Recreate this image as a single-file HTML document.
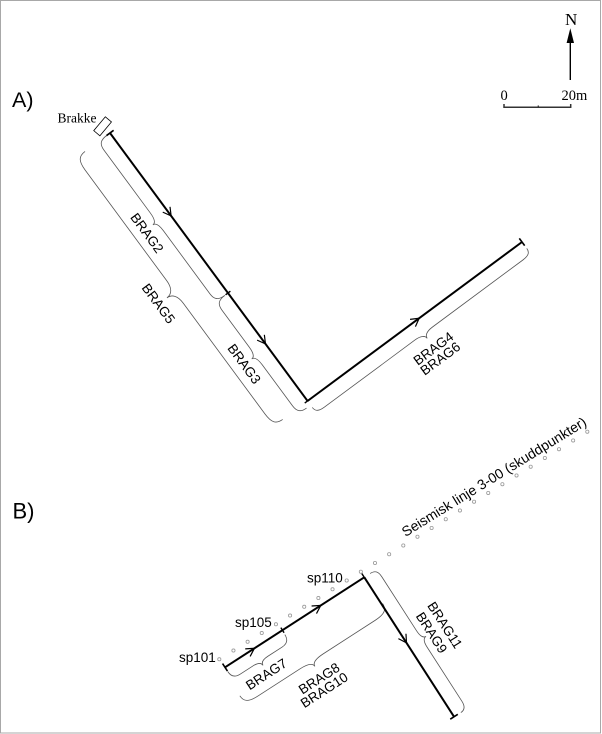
<!DOCTYPE html>
<html>
<head>
<meta charset="utf-8">
<style>
  html, body { margin: 0; padding: 0; background: #fff; }
  svg { display: block; }
  .sans { font-family: "Liberation Sans", Arial, sans-serif; }
  .serif { font-family: "Liberation Serif", "Times New Roman", serif; }
</style>
</head>
<body>
<svg width="602" height="734" viewBox="0 0 602 734" xmlns="http://www.w3.org/2000/svg">
  <rect x="0" y="0" width="602" height="734" fill="#fff"/>
  <!-- frame -->
  <rect x="0.5" y="0.5" width="600" height="732.5" fill="none" stroke="#a8a8a8" stroke-width="1"/>

  <!-- North arrow -->
  <text x="565" y="25" class="serif" font-size="17" fill="#000">N</text>
  <line x1="570.3" y1="41" x2="570.3" y2="80" stroke="#000" stroke-width="1.4"/>
  <polygon points="570.3,28.3 566.6,43 574,43" fill="#000"/>

  <!-- Scale bar -->
  <text x="500.5" y="100" class="serif" font-size="14.5" fill="#000">0</text>
  <text x="561.5" y="100" class="serif" font-size="14.5" fill="#000">20m</text>
  <path d="M504,104 L504,107.3 L570.7,107.3 L570.7,104" fill="none" stroke="#333" stroke-width="1.5"/>
  <line x1="538.3" y1="105.5" x2="538.3" y2="107.3" stroke="#333" stroke-width="1.3"/>

  <!-- Section labels -->
  <text x="12" y="107" class="sans" font-size="21.5" fill="#000">A)</text>
  <text x="12.5" y="518.5" class="sans" font-size="22" fill="#000">B)</text>

  <!-- Brakke -->
  <text x="57.5" y="122.3" class="serif" font-size="13.5" fill="#000">Brakke</text>
  <rect x="-9" y="-4" width="18" height="8" transform="translate(102.6,126.3) rotate(-50)" fill="#fff" stroke="#000" stroke-width="0.8"/>

  <!-- A1 line -->
  <g transform="translate(110,133) rotate(53.6)">
    <line x1="0" y1="0" x2="332.9" y2="0" stroke="#000" stroke-width="2"/>
    <line x1="0" y1="-4.5" x2="0" y2="4.5" stroke="#000" stroke-width="1.6"/>
    <line x1="198.8" y1="-3" x2="198.8" y2="3" stroke="#000" stroke-width="1.4"/>
    <line x1="332.9" y1="-3.5" x2="332.9" y2="3.5" stroke="#000" stroke-width="1.4"/>
    <path d="M95,-4.5 L103,0 L95,4.5" fill="none" stroke="#000" stroke-width="1.2"/>
    <path d="M254,-4.5 L262,0 L254,4.5" fill="none" stroke="#000" stroke-width="1.2"/>
    <!-- braces -->
    <path d="M0,4 C0,12 3,15 10,15 L88.4,15 C96,15 99.4,17 99.4,20 C99.4,17 103,15 110.4,15 L188.8,15 C196,15 198.8,12 198.8,4" fill="none" stroke="#555" stroke-width="0.8"/>
    <path d="M198.8,4 C198.8,12 202,15 208.8,15 L255,15 C262.5,15 266,17 266,20 C266,17 269.5,15 277,15 L328,15 C335,15 338,12 338,5" fill="none" stroke="#555" stroke-width="0.8"/>
    <path d="M0,31 C0,39 4,42 15,42 L152.5,42 C162,42 166.5,46 166.5,52 C166.5,46 171,42 180.5,42 L318,42 C329,42 333,39 333,31" fill="none" stroke="#555" stroke-width="0.8"/>
    <text x="102.5" y="34.2" text-anchor="middle" class="sans" font-size="13.5" fill="#000">BRAG2</text>
    <text x="265.5" y="33.6" text-anchor="middle" class="sans" font-size="13.5" fill="#000">BRAG3</text>
    <text x="166" y="66.8" text-anchor="middle" class="sans" font-size="13.5" fill="#000">BRAG5</text>
  </g>

  <!-- A2 line -->
  <g transform="translate(307.5,401) rotate(-36.55)">
    <line x1="0" y1="0" x2="267" y2="0" stroke="#000" stroke-width="2"/>
    <line x1="267" y1="-4.5" x2="267" y2="4.5" stroke="#000" stroke-width="1.6"/>
    <path d="M131,-4.5 L139,0 L131,4.5" fill="none" stroke="#000" stroke-width="1.2"/>
    <path d="M0,8 C0,13 3,15 10,15 L122.5,15 C130,15 133.5,17.5 133.5,21 C133.5,17.5 137,15 144.5,15 L257,15 C264,15 267,13 267,8" fill="none" stroke="#555" stroke-width="0.8"/>
    <text x="132.4" y="37.4" text-anchor="middle" class="sans" font-size="13.5" fill="#000">BRAG4</text>
    <text x="132" y="49.6" text-anchor="middle" class="sans" font-size="13.5" fill="#000">BRAG6</text>
  </g>

  <!-- Seismic shot points -->
  <g fill="#fff" stroke="#999" stroke-width="0.8">
    <circle cx="219.3" cy="659.3" r="1.6"/>
    <circle cx="233.45" cy="650.55" r="1.6"/>
    <circle cx="247.61" cy="641.79" r="1.6"/>
    <circle cx="261.76" cy="633.04" r="1.6"/>
    <circle cx="275.92" cy="624.28" r="1.6"/>
    <circle cx="290.07" cy="615.53" r="1.6"/>
    <circle cx="304.22" cy="606.78" r="1.6"/>
    <circle cx="318.38" cy="598.02" r="1.6"/>
    <circle cx="332.53" cy="589.27" r="1.6"/>
    <circle cx="346.69" cy="580.51" r="1.6"/>
    <circle cx="360.84" cy="571.76" r="1.6"/>
    <circle cx="374.99" cy="563.01" r="1.6"/>
    <circle cx="389.15" cy="554.25" r="1.6"/>
    <circle cx="403.3" cy="545.5" r="1.6"/>
    <circle cx="417.46" cy="536.74" r="1.6"/>
    <circle cx="431.61" cy="527.99" r="1.6"/>
    <circle cx="445.76" cy="519.24" r="1.6"/>
    <circle cx="459.92" cy="510.48" r="1.6"/>
    <circle cx="474.07" cy="501.73" r="1.6"/>
    <circle cx="488.23" cy="492.97" r="1.6"/>
    <circle cx="502.38" cy="484.22" r="1.6"/>
    <circle cx="516.53" cy="475.47" r="1.6"/>
    <circle cx="530.69" cy="466.71" r="1.6"/>
    <circle cx="544.84" cy="457.96" r="1.6"/>
    <circle cx="559" cy="449.2" r="1.6"/>
    <circle cx="573.15" cy="440.45" r="1.6"/>
    <circle cx="587.3" cy="431.7" r="1.6"/>
  </g>
  <text transform="translate(494,476.7) rotate(-31.7)" x="0" y="4.9" text-anchor="middle" class="sans" font-size="14" fill="#000">Seismisk linje 3-00 (skuddpunkter)</text>

  <!-- sp labels -->
  <text x="179" y="662" class="sans" font-size="13.5" fill="#000">sp101</text>
  <text x="235" y="627" class="sans" font-size="13.5" fill="#000">sp105</text>
  <text x="307" y="582.5" class="sans" font-size="13.5" fill="#000">sp110</text>

  <!-- B1 line -->
  <g transform="translate(225,667.3) rotate(-32.86)">
    <line x1="0" y1="0" x2="165.8" y2="0" stroke="#000" stroke-width="2"/>
    <line x1="0" y1="-4.5" x2="0" y2="4.5" stroke="#000" stroke-width="1.6"/>
    <line x1="68.4" y1="-3" x2="68.4" y2="3" stroke="#000" stroke-width="1.4"/>
    <line x1="165.8" y1="-4.5" x2="165.8" y2="3" stroke="#000" stroke-width="1.4"/>
    <path d="M27,-4.5 L35,0 L27,4.5" fill="none" stroke="#000" stroke-width="1.2"/>
    <path d="M106,-4.5 L114,0 L106,4.5" fill="none" stroke="#000" stroke-width="1.2"/>
    <path d="M0,5 C0,11 3,14 9,14 L24,14 C30,14 33,16 33,19 C33,16 36,14 42,14 L59,14 C65,14 68,11 68,5" fill="none" stroke="#555" stroke-width="0.8"/>
    <path d="M-3,32 C-3,39 1,42 12,42 L62,42 C71,42 76,44 76,48 C76,44 81,42 90,42 L152,42 C163,42 167,39 167,32" fill="none" stroke="#555" stroke-width="0.8"/>
    <text x="31" y="32.8" text-anchor="middle" class="sans" font-size="13.5" fill="#000">BRAG7</text>
    <text x="73" y="65.1" text-anchor="middle" class="sans" font-size="13.5" fill="#000">BRAG8</text>
    <text x="71" y="77.6" text-anchor="middle" class="sans" font-size="13.5" fill="#000">BRAG10</text>
  </g>

  <!-- B2 line -->
  <g transform="translate(364.3,577.3) rotate(57.24)">
    <line x1="0" y1="0" x2="165.8" y2="0" stroke="#000" stroke-width="2"/>
    <line x1="165.8" y1="-4.5" x2="165.8" y2="4.5" stroke="#000" stroke-width="1.6"/>
    <path d="M70,-4.5 L78,0 L70,4.5" fill="none" stroke="#000" stroke-width="1.2"/>
    <path d="M0,-7 C0,-13 3,-15 9,-15 L73,-15 C80,-15 83,-17 83,-20 C83,-17 86,-15 93,-15 L157,-15 C163,-15 166,-13 166,-8" fill="none" stroke="#555" stroke-width="0.8"/>
    <text x="83.8" y="-37.3" text-anchor="middle" class="sans" font-size="13.5" fill="#000">BRAG11</text>
    <text x="83" y="-22" text-anchor="middle" class="sans" font-size="13.5" fill="#000">BRAG9</text>
  </g>
</svg>
</body>
</html>
